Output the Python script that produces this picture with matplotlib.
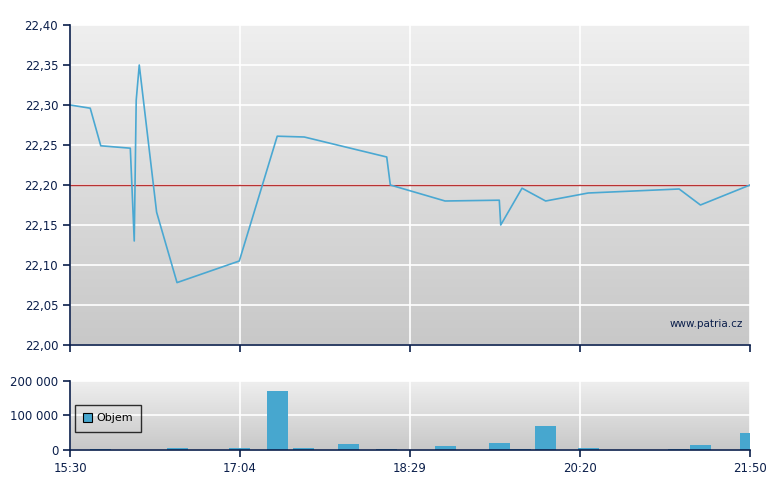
import numpy as np
import matplotlib
matplotlib.use("Agg")
import matplotlib.pyplot as plt
from matplotlib.ticker import FuncFormatter
from matplotlib.colors import LinearSegmentedColormap

# ---- data (minutes after 15:30) ----
price_t = [0, 11.3, 17.2, 33.7, 35.9, 37.0, 38.7, 48.4, 59.8, 94.6, 115.8, 130.9,
           177.0, 179.0, 209.6, 239.9, 240.7, 252.6, 265.8, 289.6, 340.4, 352.3, 380.0]
price_v = [22.300, 22.296, 22.249, 22.246, 22.130, 22.306, 22.350, 22.166, 22.078,
           22.105, 22.261, 22.260, 22.235, 22.200, 22.180, 22.181, 22.150, 22.196,
           22.180, 22.190, 22.195, 22.175, 22.200]
ref_price = 22.20

vol_t = [17.2, 60.1, 94.7, 116.0, 130.5, 155.6, 176.9, 209.8, 240.0, 252.0, 265.7,
         289.7, 340.0, 352.3, 380.3]
vol_v = [3000, 5500, 5500, 171500, 5500, 17000, 3000, 11500, 21000, 3000, 68500,
         5500, 2500, 14500, 48500]

xtick_pos = [0, 95, 190, 285, 380]
xtick_lab = ["15:30", "17:04", "18:29", "20:20", "21:50"]
price_ticks = [22.00, 22.05, 22.10, 22.15, 22.20, 22.25, 22.30, 22.35, 22.40]
vol_ticks = [0, 100000, 200000]

NAVY = "#0b1f4b"
LINE = "#4aa8d2"
BAR = "#47a7cf"

fig = plt.figure(figsize=(7.8, 4.9), dpi=100)
W, H = 780, 490
ax1 = fig.add_axes([70 / W, 1 - 345 / H, 680 / W, 320 / H])
ax2 = fig.add_axes([70 / W, 1 - 450 / H, 680 / W, 69.3 / H])

grad = np.linspace(0, 1, 256).reshape(-1, 1)
cmap = LinearSegmentedColormap.from_list("g", ["#c8c8c8", "#efefef"])

for ax in (ax1, ax2):
    ax.imshow(grad, aspect="auto", cmap=cmap, origin="lower",
              extent=[0, 1, 0, 1], transform=ax.transAxes, zorder=0)
    ax.set_xlim(0, 380)
    ax.set_xticks(xtick_pos)
    ax.grid(True, color="white", linewidth=1.2, zorder=1)
    ax.set_axisbelow(False)
    for s in ("top", "right"):
        ax.spines[s].set_visible(False)
    for s in ("left", "bottom"):
        ax.spines[s].set_color(NAVY)
        ax.spines[s].set_linewidth(1.2)
        ax.spines[s].set_zorder(5)
    ax.tick_params(colors=NAVY, labelcolor=NAVY, length=5, width=1.2, labelsize=8.5)

# price panel
ax1.set_ylim(22.0, 22.4)
ax1.set_yticks(price_ticks)
ax1.yaxis.set_major_formatter(FuncFormatter(lambda v, p: f"{v:.2f}".replace(".", ",")))
ax1.set_xticklabels([])
ax1.axhline(ref_price, color="#b83232", linewidth=1.0, zorder=3)
ax1.plot(price_t, price_v, color=LINE, linewidth=1.2, zorder=4)
ax1.text(0.99, 0.066, "www.patria.cz", transform=ax1.transAxes, ha="right", va="center",
         color=NAVY, fontsize=7.5)

# volume panel
ax2.set_ylim(0, 200000)
ax2.set_yticks(vol_ticks)
ax2.yaxis.set_major_formatter(FuncFormatter(lambda v, p: f"{int(v):,}".replace(",", " ")))
ax2.set_xticklabels(xtick_lab)
ax2.bar(vol_t, vol_v, width=11.7, color=BAR, zorder=3, label="Objem")
leg = ax2.legend(loc="upper left", bbox_to_anchor=(0.0074, 0.65), borderaxespad=0,
                 frameon=True, fancybox=False, fontsize=8, handlelength=0.8,
                 handleheight=0.8, handletextpad=0.35, borderpad=0.75,
                 labelcolor="black")
leg.get_frame().set_edgecolor("black")
leg.get_frame().set_facecolor("none")
leg.get_frame().set_linewidth(1.0)
leg.legend_handles[0].set_edgecolor("black")
leg.legend_handles[0].set_linewidth(0.8)

fig.savefig("out.png", dpi=100)
